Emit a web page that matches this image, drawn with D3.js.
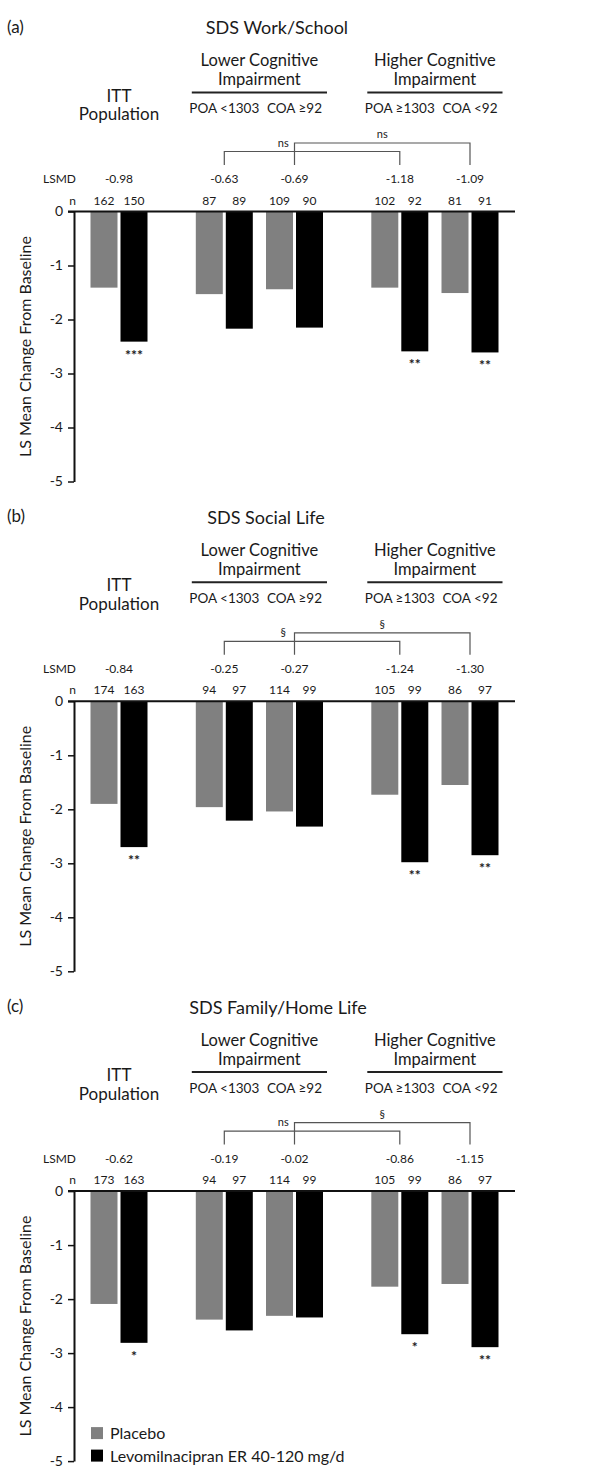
<!DOCTYPE html>
<html><head><meta charset="utf-8">
<script src="https://cdn.jsdelivr.net/npm/d3@7"></script>
<style>body{margin:0;background:#fff}svg{display:block}text{font-family:Lato,"Open Sans",sans-serif;fill:#1a1a1a}</style>
</head><body><svg id="c" width="605" height="1469"></svg>
<script>
// ---------- data ----------
const panelLetters = ["(a)", "(b)", "(c)"];
const panelTitles = ["SDS Work/School", "SDS Social Life", "SDS Family/Home Life"];
const groups = ["ITT", "POA <1303", "COA \u226592", "POA \u22651303", "COA <92"];
const seriesNames = ["Placebo", "Levomilnacipran ER 40-120 mg/d"];
const placeboA = [-1.41, -1.53, -1.44, -1.41, -1.51];
const drugA    = [-2.41, -2.17, -2.15, -2.59, -2.61];
const placeboB = [-1.90, -1.96, -2.04, -1.73, -1.55];
const drugB    = [-2.70, -2.21, -2.32, -2.98, -2.85];
const placeboC = [-2.09, -2.38, -2.31, -1.77, -1.72];
const drugC    = [-2.81, -2.58, -2.34, -2.65, -2.89];
const nPlaceboA = [162, 87, 109, 102, 81];
const nDrugA    = [150, 89, 90, 92, 91];
const nPlaceboB = [174, 94, 114, 105, 86];
const nDrugB    = [163, 97, 99, 99, 97];
const nPlaceboC = [173, 94, 114, 105, 86];
const nDrugC    = [163, 97, 99, 99, 97];
const lsmdA = [-0.98, -0.63, -0.69, -1.18, -1.09];
const lsmdB = [-0.84, -0.25, -0.27, -1.24, -1.30];
const lsmdC = [-0.62, -0.19, -0.02, -0.86, -1.15];
const starsA = ["***", "", "", "**", "**"];
const starsB = ["**", "", "", "**", "**"];
const starsC = ["*", "", "", "*", "**"];
const bracketLabelsA = ["ns", "ns"];
const bracketLabelsB = ["\u00a7", "\u00a7"];
const bracketLabelsC = ["ns", "\u00a7"];
const yTicks = [0, -1, -2, -3, -4, -5];

const panels = [
  {placebo: placeboA, drug: drugA, nP: nPlaceboA, nD: nDrugA, lsmd: lsmdA, stars: starsA, br: bracketLabelsA},
  {placebo: placeboB, drug: drugB, nP: nPlaceboB, nD: nDrugB, lsmd: lsmdB, stars: starsB, br: bracketLabelsB},
  {placebo: placeboC, drug: drugC, nP: nPlaceboC, nD: nDrugC, lsmd: lsmdC, stars: starsC, br: bracketLabelsC}
];

// ---------- layout ----------
const colors = {Placebo: "#808080", Drug: "#000000"};
const slots = [0, 3, 5, 8, 10];
const titleX = [277, 266, 278];
const axisX = 74, zeroRight = 515;
const svg = d3.select("#c");
const xg = d3.scaleLinear().domain([0, 10]).range([119, 470]);
const xb = d3.scaleBand().domain(["p", "d"]).range([-28.5, 28.5]).paddingInner(0.1);

panels.forEach((P, i) => {
  const z0 = 211.5 + i * 489.8;
  const y = d3.scaleLinear().domain([0, -5]).range([z0, z0 + 270]);
  const g = svg.append("g");
  const gx = k => xg(slots[k]);

  g.append("text").attr("x", 7).attr("y", z0 - 179).attr("font-size", 17).text(panelLetters[i]);
  g.append("text").attr("x", titleX[i]).attr("y", z0 - 177.5).attr("text-anchor", "middle").attr("font-size", 18).text(panelTitles[i]);

  // group headers
  [["Lower Cognitive", 1, 2], ["Higher Cognitive", 3, 4]].forEach(([lab, a, b]) => {
    const x1 = gx(a) - 32.5, x2 = gx(b) + 32.5, cx = (x1 + x2) / 2;
    g.append("text").attr("x", cx).attr("y", z0 - 145.5).attr("text-anchor", "middle").attr("font-size", 16.5).text(lab);
    g.append("text").attr("x", cx).attr("y", z0 - 126.5).attr("text-anchor", "middle").attr("font-size", 16.5).text("Impairment");
    g.append("line").attr("x1", x1).attr("x2", x2).attr("y1", z0 - 119).attr("y2", z0 - 119).attr("stroke", "#222").attr("stroke-width", 2);
  });
  g.append("text").attr("x", gx(0)).attr("y", z0 - 110).attr("text-anchor", "middle").attr("font-size", 17).text("ITT");
  g.append("text").attr("x", gx(0)).attr("y", z0 - 91.5).attr("text-anchor", "middle").attr("font-size", 17).text("Population");
  groups.forEach((lab, k) => {
    if (k === 0) return;
    g.append("text").attr("x", gx(k)).attr("y", z0 - 98.5).attr("text-anchor", "middle").attr("font-size", 13.5).text(lab);
  });

  // brackets
  [[1, 3, 60], [2, 4, 68.5]].forEach(([a, b, h], j) => {
    const x1 = gx(a), x2 = gx(b);
    g.append("path").attr("d", `M${x1},${z0 - 46.5}V${z0 - h}H${x2}V${z0 - 46.5}`).attr("fill", "none").attr("stroke", "#555").attr("stroke-width", 1.2);
    const lx = j === 0 ? gx(a) + 59 : (x1 + x2) / 2;
    g.append("text").attr("x", lx).attr("y", z0 - h - 5).attr("text-anchor", "middle").attr("font-size", 11).attr("fill", "#444").text(P.br[j]);
  });

  // LSMD and n rows
  g.append("text").attr("x", 76).attr("y", z0 - 28.5).attr("text-anchor", "end").attr("font-size", 12).text("LSMD");
  g.append("text").attr("x", 76).attr("y", z0 - 7).attr("text-anchor", "end").attr("font-size", 12).text("n");
  P.lsmd.forEach((v, k) => {
    g.append("text").attr("x", gx(k)).attr("y", z0 - 28.5).attr("text-anchor", "middle").attr("font-size", 12).text(v.toFixed(2));
  });
  groups.forEach((lab, k) => {
    g.append("text").attr("x", gx(k) + xb("p") + xb.bandwidth() / 2).attr("y", z0 - 7).attr("text-anchor", "middle").attr("font-size", 12).text(P.nP[k]);
    g.append("text").attr("x", gx(k) + xb("d") + xb.bandwidth() / 2).attr("y", z0 - 7).attr("text-anchor", "middle").attr("font-size", 12).text(P.nD[k]);
  });

  // bars
  g.selectAll("rect.p").data(P.placebo).join("rect").attr("class", "p")
    .attr("x", (d, k) => gx(k) + xb("p")).attr("width", xb.bandwidth())
    .attr("y", y(0)).attr("height", d => y(d) - y(0)).attr("fill", colors.Placebo);
  g.selectAll("rect.d").data(P.drug).join("rect").attr("class", "d")
    .attr("x", (d, k) => gx(k) + xb("d")).attr("width", xb.bandwidth())
    .attr("y", y(0)).attr("height", d => y(d) - y(0)).attr("fill", colors.Drug);
  P.stars.forEach((s, k) => {
    if (!s) return;
    g.append("text").attr("x", gx(k) + xb("d") + xb.bandwidth() / 2).attr("y", y(P.drug[k]) + 18)
      .attr("text-anchor", "middle").attr("font-size", 14).attr("font-weight", "bold").attr("fill", "#333").text(s);
  });

  // axis
  const ax = g.append("g").attr("transform", `translate(${axisX},0)`)
    .call(d3.axisLeft(y).tickValues(yTicks).tickSize(6).tickSizeOuter(0).tickPadding(5).tickFormat(d => String(d)));
  ax.select(".domain").attr("stroke", "#111").attr("stroke-width", 2);
  ax.selectAll(".tick line").attr("stroke", "#111").attr("stroke-width", 1.5);
  ax.selectAll(".tick text").attr("font-size", 14).attr("fill", "#1a1a1a").style("font-family", "Lato,sans-serif");
  g.append("line").attr("x1", axisX - 6).attr("x2", zeroRight).attr("y1", y(0)).attr("y2", y(0)).attr("stroke", "#111").attr("stroke-width", 2);
  g.append("text").attr("transform", `translate(31,${(y(0) + y(-5)) / 2}) rotate(-90)`).attr("text-anchor", "middle")
    .attr("font-size", 16).text("LS Mean Change From Baseline");

  if (i === 2) {
    const lg = g.append("g");
    seriesNames.forEach((nm, k) => {
      const ly = z0 + 236 + k * 22.5;
      lg.append("rect").attr("x", 91).attr("y", ly).attr("width", 12).attr("height", 12).attr("fill", k === 0 ? colors.Placebo : colors.Drug);
      lg.append("text").attr("x", 110).attr("y", ly + 12).attr("font-size", 16).text(nm);
    });
  }
});
</script></body></html>
